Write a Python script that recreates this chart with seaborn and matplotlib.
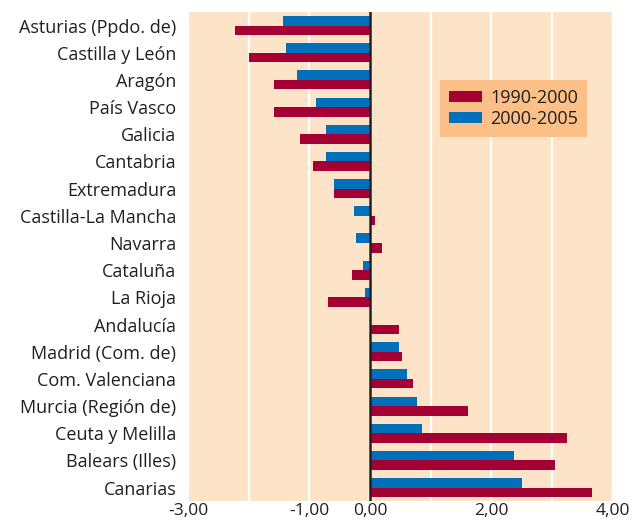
import numpy as np
import pandas as pd
import matplotlib
matplotlib.use("Agg")
import matplotlib.pyplot as plt
from matplotlib.patches import Patch
import seaborn as sns

regiones = ["Asturias (Ppdo. de)", "Castilla y León", "Aragón", "País Vasco",
            "Galicia", "Cantabria", "Extremadura", "Castilla-La Mancha",
            "Navarra", "Cataluña", "La Rioja", "Andalucía", "Madrid (Com. de)",
            "Com. Valenciana", "Murcia (Región de)", "Ceuta y Melilla",
            "Balears (Illes)", "Canarias"]
v_1990_2000 = [-2.22, -2.00, -1.59, -1.59, -1.15, -0.94, -0.59, 0.09, 0.19,
               -0.29, -0.70, 0.48, 0.52, 0.70, 1.62, 3.24, 3.05, 3.66]
v_2000_2005 = [-1.44, -1.38, -1.20, -0.89, -0.72, -0.72, -0.59, -0.26, -0.23,
               -0.11, -0.08, 0.0, 0.48, 0.61, 0.78, 0.85, 2.38, 2.51]
periodos = ["1990-2000", "2000-2005"]
colores = {"1990-2000": "#A50034", "2000-2005": "#0070BA"}

df = pd.DataFrame({
    "region": regiones * 2,
    "valor": v_1990_2000 + v_2000_2005,
    "periodo": [periodos[0]] * len(regiones) + [periodos[1]] * len(regiones),
})

plt.rcParams['font.family'] = ['Open Sans', 'DejaVu Sans']
txt = "#231F20"

fig = plt.figure(figsize=(6.32, 5.21), dpi=100)
ax = fig.add_axes([0.2975, 0.038, 0.672, 0.939])
ax.set_facecolor("#FDE4C9")

# blue bar sits above the red one in each pair
sns.barplot(data=df, y="region", x="valor", hue="periodo",
            hue_order=["2000-2005", "1990-2000"], order=regiones,
            palette=colores, width=0.7, ax=ax, saturation=1, legend=False,
            linewidth=0, zorder=3)

ax.set_xlim(-3, 4)
ax.set_ylim(len(regiones) - 0.5, -0.5)
ax.set_xticks(range(-3, 5))
ax.set_xticklabels(["-3,00", "", "-1,00", "0,00", "", "2,00", "", "4,00"])
ax.grid(axis="x", color="white", linewidth=1.6, zorder=1)
ax.grid(axis="y", visible=False)
ax.axvline(0, color="#231F20", linewidth=1.8, zorder=4)
for s in ax.spines.values():
    s.set_visible(False)
ax.tick_params(length=0, labelsize=13, labelcolor=txt)
ax.tick_params(axis="y", pad=8.5)
ax.tick_params(axis="x", pad=1, labelsize=12.5)
ax.set_xlabel("")
ax.set_ylabel("")

handles = [Patch(facecolor=colores[p], label=p) for p in periodos]
leg = ax.legend(handles=handles, loc="upper left", bbox_to_anchor=(0.593, 0.861),
                borderaxespad=0, frameon=True, fontsize=13, handlelength=1.85,
                handleheight=0.6, handletextpad=0.45, borderpad=0.5,
                labelspacing=0.15, fancybox=False)
leg.get_frame().set_facecolor("#FBBF87")
leg.get_frame().set_edgecolor("none")
leg.get_frame().set_alpha(1)
for t in leg.get_texts():
    t.set_color(txt)

fig.savefig("out.png", dpi=100)
